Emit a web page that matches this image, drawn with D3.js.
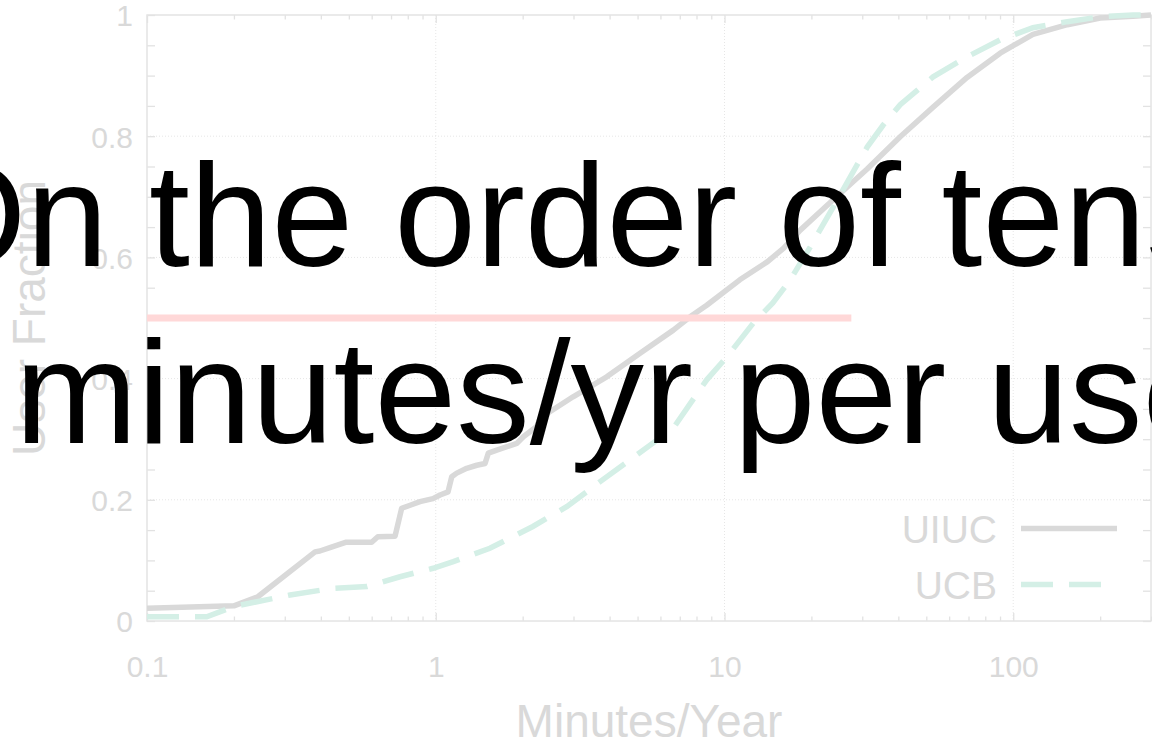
<!DOCTYPE html>
<html>
<head>
<meta charset="utf-8">
<script src="https://cdn.jsdelivr.net/npm/d3@7"></script>
<style>
  html, body { margin: 0; padding: 0; background: #fff; overflow: hidden; }
  svg { display: block; font-family: "Liberation Sans", Arial, Helvetica, sans-serif; }
</style>
</head>
<body>
<svg id="chart" width="1152" height="746"></svg>
<script>
// ---- Data ----
const uiucX = [0.1, 0.2, 0.242, 0.382, 0.397, 0.43, 0.49, 0.60, 0.63, 0.723, 0.762, 0.815, 0.882, 0.978, 1.035, 1.103, 1.136, 1.182, 1.28, 1.387, 1.482, 1.521, 1.627, 1.909, 2.011, 2.238, 2.30, 2.99, 3.91, 5.10, 6.65, 7.60, 8.68, 11.3, 14.1, 16.0, 18.3, 23.8, 31.2, 40.6, 52.8, 69.2, 90.1, 117, 154, 200, 260, 300];
const uiucY = [0.021, 0.025, 0.040, 0.114, 0.1155, 0.121, 0.130, 0.130, 0.139, 0.140, 0.186, 0.191, 0.197, 0.202, 0.208, 0.213, 0.238, 0.244, 0.252, 0.257, 0.260, 0.277, 0.282, 0.293, 0.304, 0.321, 0.335, 0.370, 0.403, 0.442, 0.480, 0.502, 0.521, 0.563, 0.593, 0.615, 0.645, 0.695, 0.746, 0.799, 0.848, 0.897, 0.937, 0.968, 0.984, 0.995, 0.998, 1.0];

const ucbX = [0.1, 0.161, 0.2, 0.313, 0.441, 0.578, 0.752, 0.979, 1.15, 1.54, 2.17, 2.85, 3.71, 6.64, 8.68, 10.2, 12.6, 14.7, 16.9, 19.8, 23.8, 31.2, 35.4, 40.6, 52.8, 69.2, 90.1, 117, 154, 200, 260, 300];
const ucbY = [0.007, 0.007, 0.024, 0.043, 0.054, 0.057, 0.073, 0.087, 0.098, 0.120, 0.156, 0.189, 0.230, 0.318, 0.398, 0.436, 0.492, 0.525, 0.563, 0.617, 0.683, 0.782, 0.818, 0.852, 0.898, 0.931, 0.959, 0.979, 0.989, 0.997, 1.0, 1.0];

const seriesNames = ["UIUC", "UCB"];
const xMajorTicks = [0.1, 1, 10, 100];
const xTickLabels = ["0.1", "1", "10", "100"];
const yMajorTicks = [0, 0.2, 0.4, 0.6, 0.8, 1];
const yTickLabels = ["0", "0.2", "0.4", "0.6", "0.8", "1"];
const xGrid = [1, 10, 100];
const yGrid = [0.2, 0.4, 0.6, 0.8];
const thresholdY = [0.5];
const thresholdX = [0.1, 27.5];
const xTitle = "Minutes/Year";
const yTitle = "User Fraction";
const overlayLines = ["On the order of tens", "minutes/yr per user"];

// ---- Layout ----
const L = 147, R = 1151, T = 15, B = 621;
const svg = d3.select("#chart");
const x = d3.scaleLog().domain([0.1, 300]).range([L, R]);
const y = d3.scaleLinear().domain([0, 1]).range([B, T]);

const labelColor = "#d9d9d9";
const tickColor = "#e2e2e2";

// grid
const grid = svg.append("g");
grid.selectAll("line.gx").data(xGrid).join("line")
  .attr("x1", d => x(d)).attr("x2", d => x(d)).attr("y1", T).attr("y2", B)
  .attr("stroke", "#e6e6e6").attr("stroke-width", 1).attr("stroke-dasharray", "1,2");
grid.selectAll("line.gy").data(yGrid).join("line")
  .attr("x1", L).attr("x2", R).attr("y1", d => y(d)).attr("y2", d => y(d))
  .attr("stroke", "#e6e6e6").attr("stroke-width", 1).attr("stroke-dasharray", "1,2");

// minor tick values
const xMinor = [];
[0.1, 1, 10, 100].forEach(dec => { for (let k = 2; k <= 9; k++) { const v = dec * k; if (v <= 300) xMinor.push(v); } });
const yMinor = d3.range(0, 21).map(i => i * 0.05).filter(v => !yMajorTicks.some(m => Math.abs(m - v) < 1e-9));

function styleAxis(g) {
  g.select(".domain").remove();
  g.selectAll(".tick line").attr("stroke", tickColor).attr("stroke-width", 1.3);
  g.selectAll(".tick text").attr("fill", labelColor).attr("font-size", 30)
    .attr("font-family", '"Liberation Sans", Arial, sans-serif');
}

// bottom axis with labels
svg.append("g").attr("transform", `translate(0,${B})`)
  .call(d3.axisBottom(x).tickValues(xMajorTicks).tickSize(-8).tickPadding(35)
    .tickFormat((d, i) => xTickLabels[i]))
  .call(styleAxis);
svg.append("g").attr("transform", `translate(0,${B})`)
  .call(d3.axisBottom(x).tickValues(xMinor).tickSize(-4.5).tickFormat(""))
  .call(styleAxis);
// top axis
svg.append("g").attr("transform", `translate(0,${T})`)
  .call(d3.axisTop(x).tickValues(xMajorTicks).tickSize(-8).tickFormat(""))
  .call(styleAxis);
svg.append("g").attr("transform", `translate(0,${T})`)
  .call(d3.axisTop(x).tickValues(xMinor).tickSize(-4.5).tickFormat(""))
  .call(styleAxis);
// left axis
svg.append("g").attr("transform", `translate(${L},0)`)
  .call(d3.axisLeft(y).tickValues(yMajorTicks).tickSize(-8).tickPadding(14)
    .tickFormat((d, i) => yTickLabels[i]))
  .call(styleAxis)
  .call(g => g.selectAll(".tick text").attr("dy", "0.36em"));
svg.append("g").attr("transform", `translate(${L},0)`)
  .call(d3.axisLeft(y).tickValues(yMinor).tickSize(-8).tickFormat(""))
  .call(styleAxis);
// right axis
svg.append("g").attr("transform", `translate(${R},0)`)
  .call(d3.axisRight(y).tickValues(d3.range(0, 21).map(i => i * 0.05)).tickSize(-8).tickFormat(""))
  .call(styleAxis);

// frame
svg.append("rect").attr("x", L).attr("y", T).attr("width", R - L).attr("height", B - T)
  .attr("fill", "none").attr("stroke", "#e4e4e4").attr("stroke-width", 1.5);

// clip
svg.append("clipPath").attr("id", "plotclip").append("rect")
  .attr("x", L).attr("y", T - 4).attr("width", R - L).attr("height", B - T + 8);

const line = d3.line().x(d => x(d[0])).y(d => y(d[1]));
const uiuc = uiucX.map((v, i) => [v, uiucY[i]]);
const ucb = ucbX.map((v, i) => [v, ucbY[i]]);

const plot = svg.append("g").attr("clip-path", "url(#plotclip)");
plot.append("path").datum(uiuc).attr("d", line)
  .attr("fill", "none").attr("stroke", "#d9d9d9").attr("stroke-width", 5.5)
  .attr("stroke-linejoin", "round");
plot.append("path").datum(ucb).attr("d", line)
  .attr("fill", "none").attr("stroke", "#d4efe6").attr("stroke-width", 5.5)
  .attr("stroke-dasharray", "32,16");

// threshold line
plot.append("line")
  .attr("x1", x(thresholdX[0])).attr("x2", x(thresholdX[1]))
  .attr("y1", y(thresholdY[0])).attr("y2", y(thresholdY[0]))
  .attr("stroke", "#ffd8d8").attr("stroke-width", 7);

// legend
const legend = svg.append("g");
const legY = [543, 599];
const legStyles = [{ c: "#d9d9d9", dash: null }, { c: "#d4efe6", dash: "32,16" }];
seriesNames.forEach((name, i) => {
  legend.append("text").attr("x", 997).attr("y", legY[i]).attr("text-anchor", "end")
    .attr("font-size", 39).attr("fill", labelColor).text(name);
  const ln = legend.append("line").attr("x1", 1021).attr("x2", 1117)
    .attr("y1", legY[i] - 14.5).attr("y2", legY[i] - 14.5)
    .attr("stroke", legStyles[i].c).attr("stroke-width", 5.5);
  if (legStyles[i].dash) ln.attr("stroke-dasharray", legStyles[i].dash);
});

// axis titles
svg.append("text").attr("x", (L + R) / 2).attr("y", 737).attr("text-anchor", "middle")
  .attr("font-size", 46).attr("fill", labelColor).text(xTitle);
svg.append("text").attr("transform", `translate(45,${(T + B) / 2}) rotate(-90)`)
  .attr("text-anchor", "middle").attr("font-size", 46).attr("fill", labelColor).text(yTitle);

// overlay text
const overlay = svg.append("g").attr("font-size", 147).attr("fill", "#000");
overlay.append("text").attr("x", -88).attr("y", 266).text(overlayLines[0]);
overlay.append("text").attr("x", 15).attr("y", 443).text(overlayLines[1]);
</script>
</body>
</html>
